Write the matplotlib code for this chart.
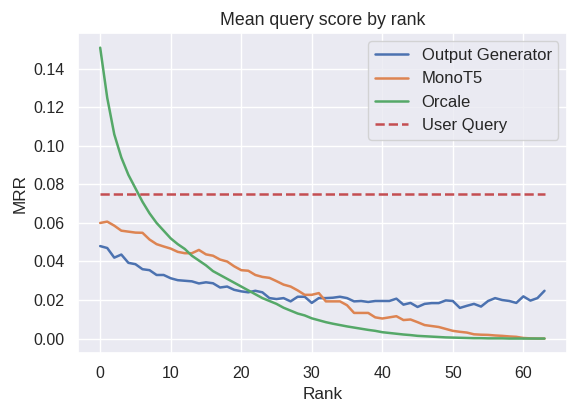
import matplotlib
matplotlib.use('Agg')
import matplotlib.pyplot as plt
import numpy as np
import seaborn as sns

sns.set_theme()
plt.rcParams['font.family'] = ['Liberation Sans', 'DejaVu Sans']

ranks = np.arange(64)

output_generator = [
    0.048, 0.047, 0.042, 0.0436, 0.0393, 0.0386, 0.036, 0.0355, 0.033, 0.033,
    0.0313, 0.0303, 0.030, 0.0297, 0.0286, 0.0292, 0.0287, 0.0265, 0.027, 0.0253,
    0.0245, 0.024, 0.0248, 0.024, 0.021, 0.0205, 0.021, 0.0193, 0.0217, 0.0217,
    0.0185, 0.021, 0.021, 0.0212, 0.0217, 0.021, 0.0193, 0.0195, 0.019, 0.0195,
    0.0195, 0.0195, 0.0207, 0.0176, 0.0185, 0.0164, 0.018, 0.0184, 0.0184, 0.0198,
    0.0195, 0.0159, 0.017, 0.018, 0.0166, 0.0195, 0.021, 0.020, 0.0195, 0.0185,
    0.0219, 0.0197, 0.021, 0.0248,
]

monot5 = [
    0.060, 0.0607, 0.0586, 0.056, 0.0555, 0.055, 0.0549, 0.0514, 0.049, 0.0478,
    0.0467, 0.045, 0.0443, 0.0443, 0.046, 0.0437, 0.043, 0.041, 0.040, 0.0375,
    0.0355, 0.0352, 0.033, 0.032, 0.0315, 0.0298, 0.028, 0.027, 0.025, 0.0227,
    0.0227, 0.0236, 0.0193, 0.0193, 0.0193, 0.0173, 0.0133, 0.0133, 0.0133, 0.0110,
    0.0104, 0.0110, 0.0116, 0.0096, 0.0099, 0.0085, 0.0070, 0.0065, 0.0060, 0.0050,
    0.0040, 0.0035, 0.0031, 0.0022, 0.0020, 0.0019, 0.0016, 0.0014, 0.0011, 0.0009,
    0.0003, 0.0001, 0.0, 0.0,
]

orcale = [
    0.151, 0.125, 0.106, 0.094, 0.085, 0.078, 0.071, 0.065, 0.060, 0.056,
    0.052, 0.049, 0.0465, 0.043, 0.0405, 0.038, 0.035, 0.033, 0.031, 0.029,
    0.027, 0.025, 0.023, 0.021, 0.0195, 0.018, 0.016, 0.0145, 0.013, 0.012,
    0.0105, 0.0095, 0.0085, 0.0077, 0.007, 0.0063, 0.0057, 0.0051, 0.0045, 0.004,
    0.0033, 0.0029, 0.0025, 0.0021, 0.0018, 0.0014, 0.0012, 0.001, 0.0008, 0.0006,
    0.0005, 0.0004, 0.0003, 0.0002, 0.0002, 0.0001, 0.0001, 0.0001, 0.0, 0.0,
    0.0, 0.0, 0.0, 0.0,
]

user_query = 0.075

fig, ax = plt.subplots(figsize=(5.69, 4.04), dpi=100)

ax.plot(ranks, output_generator, lw=1.8, label='Output Generator')
ax.plot(ranks, monot5, lw=1.8, label='MonoT5')
ax.plot(ranks, orcale, lw=1.8, label='Orcale')
ax.plot(ranks, [user_query] * len(ranks), '--', lw=1.8, label='User Query')

ax.set_title('Mean query score by rank', fontsize=12.8)
ax.set_xlabel('Rank', fontsize=12.3)
ax.set_ylabel('MRR', fontsize=12.3)
ax.tick_params(labelsize=11.5)
ax.legend(loc='upper right', fontsize=12)

fig.subplots_adjust(left=0.137, right=0.996, top=0.918, bottom=0.126)
fig.savefig('out.png', dpi=100)
